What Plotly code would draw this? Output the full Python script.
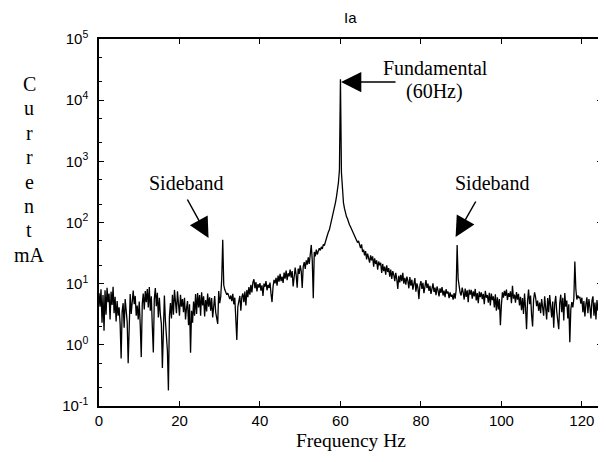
import numpy as np
import plotly.graph_objects as go

# spectrum of phase current Ia, 0.25 Hz bins from 0 to 125 Hz
FREQ_STEP = 0.25
current_ma = [
    # 0 - 4.75 Hz
    7.0, 4.2, 8.1, 2.3, 6.5, 1.7, 7.8, 3.1, 8.6, 5.0, 6.9, 2.6, 7.4, 4.5, 8.9, 3.3, 6.1, 2.4, 5.2, 3.0,
    # 5 - 9.75 Hz
    4.1, 2.2, 0.6, 3.5, 4.8, 1.9, 5.6, 3.0, 2.4, 0.5, 3.9, 6.8, 3.2, 5.5, 7.7, 4.6, 6.3, 3.0, 4.4, 2.6,
    # 10 - 14.75 Hz
    5.1, 2.1, 0.63, 4.7, 6.9, 3.8, 7.6, 5.0, 8.2, 4.1, 8.8, 3.6, 6.2, 2.0, 0.75, 5.7, 8.5, 4.3, 7.1, 2.8,
    # 15 - 19.75 Hz
    5.9, 3.1, 2.2, 0.42, 3.3, 6.4, 2.5, 1.2, 0.8, 0.18, 2.9, 4.8, 2.7, 6.6, 3.1, 7.9, 4.0, 3.3, 7.5, 4.4,
    # 20 - 24.75 Hz
    3.0, 6.6, 4.2, 5.6, 3.4, 5.9, 2.6, 4.0, 5.2, 2.1, 4.6, 0.74, 3.6, 2.3, 5.1, 3.0, 6.8, 3.2, 7.0, 4.1,
    # 25 - 29.75 Hz
    6.5, 3.0, 7.2, 4.4, 6.2, 2.9, 5.4, 3.5, 6.9, 4.2, 6.0, 3.6, 5.8, 2.8, 4.7, 6.3, 3.4, 2.5, 2.2, 7.6,
    # 30 - 34.75 Hz
    4.8, 6.1, 12.0, 52.0, 9.5, 8.0, 7.4, 6.6, 7.0, 6.2, 5.6, 6.4, 5.2, 6.8, 4.6, 5.9, 3.1, 1.2, 4.2, 5.4,
    # 35 - 39.75 Hz
    6.3, 3.6, 6.1, 6.9, 5.0, 7.4, 4.4, 7.9, 6.0, 8.8, 6.6, 9.6, 7.2, 10.5, 11.8, 8.4, 10.6, 7.5, 9.8, 8.6,
    # 40 - 44.75 Hz
    10.2, 7.7, 9.4, 6.3, 10.0, 8.9, 11.0, 7.8, 9.6, 8.5, 10.4, 6.8, 5.0, 8.9, 11.5, 10.1, 12.4, 9.3, 13.6, 10.8,
    # 45 - 49.75 Hz
    14.5, 11.0, 13.0, 10.3, 15.2, 12.1, 16.4, 11.4, 14.8, 13.2, 17.0, 12.6, 16.1, 9.0, 15.5, 18.3, 13.8, 8.6, 17.6, 14.4,
    # 50 - 54.75 Hz
    20.0, 16.0, 8.5, 19.0, 22.5, 17.5, 24.0, 20.5, 27.0, 21.0, 30.0, 43.0, 24.0, 5.8, 33.0, 28.0, 36.0, 30.0, 34.0, 38.0,
    # 55 - 59.75 Hz
    35.0, 40.0, 37.0, 44.0, 42.0, 50.0, 55.0, 62.0, 70.0, 76.0, 90.0, 105.0, 125.0, 150.0, 175.0, 210.0, 260.0, 330.0, 450.0, 720.0,
    # 60 - 64.75 Hz
    22000.0, 650.0, 300.0, 210.0, 170.0, 140.0, 125.0, 115.0, 100.0, 92.0, 85.0, 78.0, 72.0, 66.0, 61.0, 55.0, 52.0, 47.0, 50.0, 42.0,
    # 65 - 69.75 Hz
    38.0, 44.0, 33.0, 36.0, 29.0, 34.0, 25.0, 31.0, 27.0, 22.0, 29.0, 24.0, 28.0, 19.0, 26.0, 21.0, 24.0, 17.0, 23.0, 20.0,
    # 70 - 74.75 Hz
    22.0, 15.0, 21.0, 16.0, 19.0, 14.0, 20.0, 15.5, 18.0, 13.0, 17.0, 12.0, 16.0, 14.0, 11.0, 15.0, 12.0, 8.2, 13.5, 10.5,
    # 75 - 79.75 Hz
    14.0, 11.0, 15.0, 10.0, 12.5, 9.6, 13.0, 11.2, 8.4, 12.8, 9.3, 11.6, 8.0, 10.8, 12.3, 7.4, 10.1, 8.6, 5.6, 9.4,
    # 80 - 84.75 Hz
    11.0, 8.2, 10.3, 7.0, 9.6, 11.4, 8.5, 10.0, 7.6, 9.2, 6.8, 8.9, 10.1, 7.3, 8.6, 6.5, 9.0, 7.8, 6.2, 8.4,
    # 85 - 89.75 Hz
    7.1, 8.8, 6.4, 7.7, 6.0, 8.1, 6.9, 7.4, 5.8, 7.2, 6.1, 6.6, 5.5, 7.0, 5.7, 7.8, 43.0, 12.0, 8.4, 7.1,
    # 90 - 94.75 Hz
    6.4, 8.6, 7.2, 5.5, 8.3, 6.1, 7.8, 5.0, 8.0, 6.6, 7.9, 5.7, 7.5, 6.2, 8.2, 5.3, 7.0, 4.8, 7.4, 6.0,
    # 95 - 99.75 Hz
    7.2, 5.6, 6.8, 4.6, 7.6, 5.9, 6.5, 4.9, 7.1, 4.4, 6.9, 5.4, 6.2, 4.1, 6.7, 3.6, 6.0, 3.8, 5.6, 2.1,
    # 100 - 104.75 Hz
    4.5, 7.2, 5.9, 7.6, 6.3, 8.0, 5.4, 7.0, 6.1, 7.5, 4.8, 9.2, 5.7, 6.6, 4.9, 7.3, 5.5, 6.8, 4.4, 6.1,
    # 105 - 109.75 Hz
    3.7, 5.8, 3.2, 6.9, 4.0, 1.8, 5.2, 8.0, 4.6, 6.4, 3.1, 2.0, 5.5, 7.2, 6.0, 4.3, 5.3, 3.6, 4.9, 3.3,
    # 110 - 114.75 Hz
    5.6, 4.1, 3.0, 6.2, 4.5, 2.6, 5.8, 3.4, 6.5, 3.9, 2.8, 5.1, 1.9, 4.7, 6.3, 3.5, 2.3, 1.8, 4.8, 6.6,
    # 115 - 119.75 Hz
    3.4, 5.9, 2.5, 7.0, 4.2, 5.3, 2.7, 4.6, 1.1, 3.8, 5.0, 4.1, 5.6, 23.0, 8.2, 5.5, 6.4, 5.8, 6.1, 4.7,
    # 120 - 125 Hz
    5.9, 3.4, 5.2, 2.9, 4.6, 6.0, 3.3, 5.6, 4.1, 2.7, 5.3, 6.2, 3.0, 4.9, 2.6, 5.4, 3.6, 4.4, 2.8, 3.9,
    4.5,
]
freq_hz = np.arange(len(current_ma)) * FREQ_STEP

x_ticks = [0, 20, 40, 60, 80, 100, 120]
y_ticks = [0.1, 1, 10, 100, 1000, 10000, 100000]
y_ticktext = ["10<sup>-1</sup>", "10<sup>0</sup>", "10<sup>1</sup>", "10<sup>2</sup>",
              "10<sup>3</sup>", "10<sup>4</sup>", "10<sup>5</sup>"]
ylabel_chars = ["C", "u", "r", "r", "e", "n", "t", "mA"]

SERIF = "Liberation Serif, Times New Roman, serif"
SANS = "Liberation Sans, Arial, sans-serif"

# plot area in page pixels (page body has an 8px margin)
PX0, PX1, PY0, PY1 = 99, 604, 39, 406


def px(x):
    return (x - PX0) / (PX1 - PX0)


def py(y):
    return (PY1 - y) / (PY1 - PY0)


fig = go.Figure()
fig.add_scatter(
    x=freq_hz,
    y=current_ma,
    mode="lines",
    line=dict(color="black", width=1.3),
    showlegend=False,
)

fig.update_layout(
    width=598,
    height=454,
    margin=dict(l=91, r=2, t=31, b=56),
    paper_bgcolor="white",
    plot_bgcolor="white",
)

fig.update_xaxes(
    range=[0, 125],
    tickvals=x_ticks,
    ticks="inside",
    ticklen=5,
    tickcolor="black",
    showline=True,
    linecolor="black",
    linewidth=1.5,
    mirror="allticks",
    showgrid=False,
    zeroline=False,
    tickfont=dict(family=SANS, size=15, color="black"),
)
fig.update_yaxes(
    type="log",
    range=[-1, 5],
    tickvals=y_ticks,
    ticktext=y_ticktext,
    ticks="inside",
    ticklen=5,
    tickcolor="black",
    minor=dict(ticks="inside", ticklen=3, tickcolor="black", showgrid=False),
    showline=True,
    linecolor="black",
    linewidth=1.5,
    mirror="allticks",
    showgrid=False,
    zeroline=False,
    ticklabelstandoff=6,
    tickfont=dict(family=SANS, size=15, color="black"),
)

# title and x label
fig.add_annotation(
    text="Ia", xref="paper", yref="paper", x=px(351.5), y=py(17),
    xanchor="center", yanchor="middle", showarrow=False,
    font=dict(family=SANS, size=15, color="black"),
)
fig.add_annotation(
    text="Frequency Hz", xref="paper", yref="paper", x=px(351.5), y=py(440),
    xanchor="center", yanchor="middle", showarrow=False,
    font=dict(family=SERIF, size=19.5, color="black"),
)

# stacked y label
for i, ch in enumerate(ylabel_chars):
    fig.add_annotation(
        text=ch, xref="paper", yref="paper",
        x=px(29), y=py(84 + i * 24.4),
        xanchor="center", yanchor="middle", showarrow=False,
        font=dict(family=SERIF, size=20, color="black"),
    )

arrow = dict(showarrow=True, arrowhead=2, arrowsize=2.7, arrowwidth=1.5, arrowcolor="black")

# fundamental
fig.add_annotation(x=px(342), y=py(82), xref="paper", yref="paper", ax=56, ay=0, text="", **arrow)
fig.add_annotation(
    text="Fundamental", xref="paper", yref="paper", x=px(437), y=py(68),
    xanchor="center", yanchor="middle", showarrow=False,
    font=dict(family=SERIF, size=20, color="black"),
)
fig.add_annotation(
    text="(60Hz)", xref="paper", yref="paper", x=px(436), y=py(91),
    xanchor="center", yanchor="middle", showarrow=False,
    font=dict(family=SERIF, size=20, color="black"),
)

# sidebands
fig.add_annotation(
    text="Sideband", xref="paper", yref="paper", x=px(186), y=py(183),
    xanchor="center", yanchor="middle", showarrow=False,
    font=dict(family=SERIF, size=20, color="black"),
)
fig.add_annotation(x=px(209), y=py(238), xref="paper", yref="paper", ax=-22, ay=-40, text="", **arrow)
fig.add_annotation(
    text="Sideband", xref="paper", yref="paper", x=px(494), y=py(183),
    xanchor="center", yanchor="middle", showarrow=False,
    font=dict(family=SERIF, size=20, color="black"),
)
fig.add_annotation(x=px(457), y=py(237), xref="paper", yref="paper", ax=21, ay=-37, text="", **arrow)

fig.write_html("out.html")
